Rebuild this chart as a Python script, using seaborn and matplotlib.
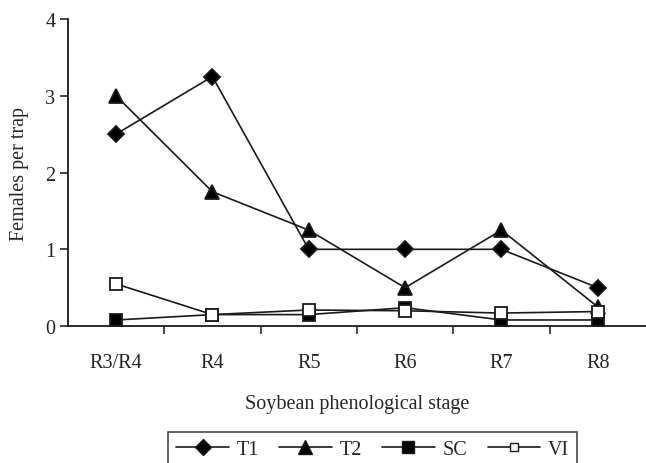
import pandas as pd
import matplotlib.pyplot as plt
import seaborn as sns
from matplotlib.lines import Line2D

stages = ['R3/R4', 'R4', 'R5', 'R6', 'R7', 'R8']
t1 = [2.5, 3.25, 1.0, 1.0, 1.0, 0.5]
t2 = [3.0, 1.75, 1.25, 0.5, 1.25, 0.25]
sc = [0.08, 0.15, 0.15, 0.24, 0.08, 0.08]
vi = [0.55, 0.15, 0.21, 0.20, 0.17, 0.19]

series = {'T1': t1, 'T2': t2, 'SC': sc, 'VI': vi}
styles = {
    'T1': dict(marker='D', ms=8, mfc='black'),
    'T2': dict(marker='^', ms=10, mfc='black'),
    'SC': dict(marker='s', ms=8, mfc='black'),
    'VI': dict(marker='s', ms=8, mfc='white'),
}

df = pd.DataFrame([
    {'stage': s, 'value': v, 'series': name}
    for name, vals in series.items() for s, v in zip(stages, vals)
])

sns.set_style('white')
plt.rcParams['font.family'] = ['Liberation Serif', 'DejaVu Serif']
fs = 14.5

fig = plt.figure(figsize=(6.46, 4.64), dpi=100)
ax = fig.add_axes([0.105, 0.295, 0.895, 0.662])

for name in series:
    st = styles[name]
    sub = df[df['series'] == name]
    sns.lineplot(data=sub, x='stage', y='value', ax=ax, color='#1a1a1a', lw=1.2,
                 marker=st['marker'], markersize=st['ms'], markerfacecolor=st['mfc'],
                 markeredgecolor='#1a1a1a', markeredgewidth=1.3, legend=False, sort=False)

ax.set_xlim(-0.5, 5.5)
ax.set_ylim(0, 4)
ax.set_yticks([0, 1, 2, 3, 4])
ax.set_xticks(range(len(stages)))
ax.set_xticklabels(stages)
ax.set_xticks([i + 0.5 for i in range(len(stages) - 1)], minor=True)
ax.tick_params(axis='x', which='major', length=0, pad=19, labelsize=fs)
ax.tick_params(axis='x', which='minor', length=6, width=1.2, direction='out', bottom=True)
ax.tick_params(axis='y', length=6, width=1.2, direction='out', left=True, labelsize=fs, pad=3)
for side in ['top', 'right']:
    ax.spines[side].set_visible(False)
for side in ['left', 'bottom']:
    ax.spines[side].set_color('#1a1a1a')
    ax.spines[side].set_linewidth(1.3)

ax.set_xlabel('Soybean phenological stage', fontsize=fs, labelpad=16)
ax.set_ylabel('Females per trap', fontsize=fs, labelpad=12)

handles = []
for name in series:
    st = styles[name]
    hms = st['ms'] if name != 'VI' else 6
    handles.append(Line2D([], [], color='#1a1a1a', lw=1.2, marker=st['marker'], markersize=hms,
                          markerfacecolor=st['mfc'], markeredgecolor='#1a1a1a', markeredgewidth=1.0))
leg = fig.legend(handles, list(series.keys()), loc='upper center', bbox_to_anchor=(0.577, 0.067),
                 ncol=4, frameon=True, fancybox=False, fontsize=fs, handlelength=2.6,
                 columnspacing=1.0, handletextpad=0.4, borderpad=0.4, borderaxespad=0)
leg.get_frame().set_edgecolor('#1a1a1a')
leg.get_frame().set_linewidth(1.2)

fig.savefig('out.png', dpi=100)
